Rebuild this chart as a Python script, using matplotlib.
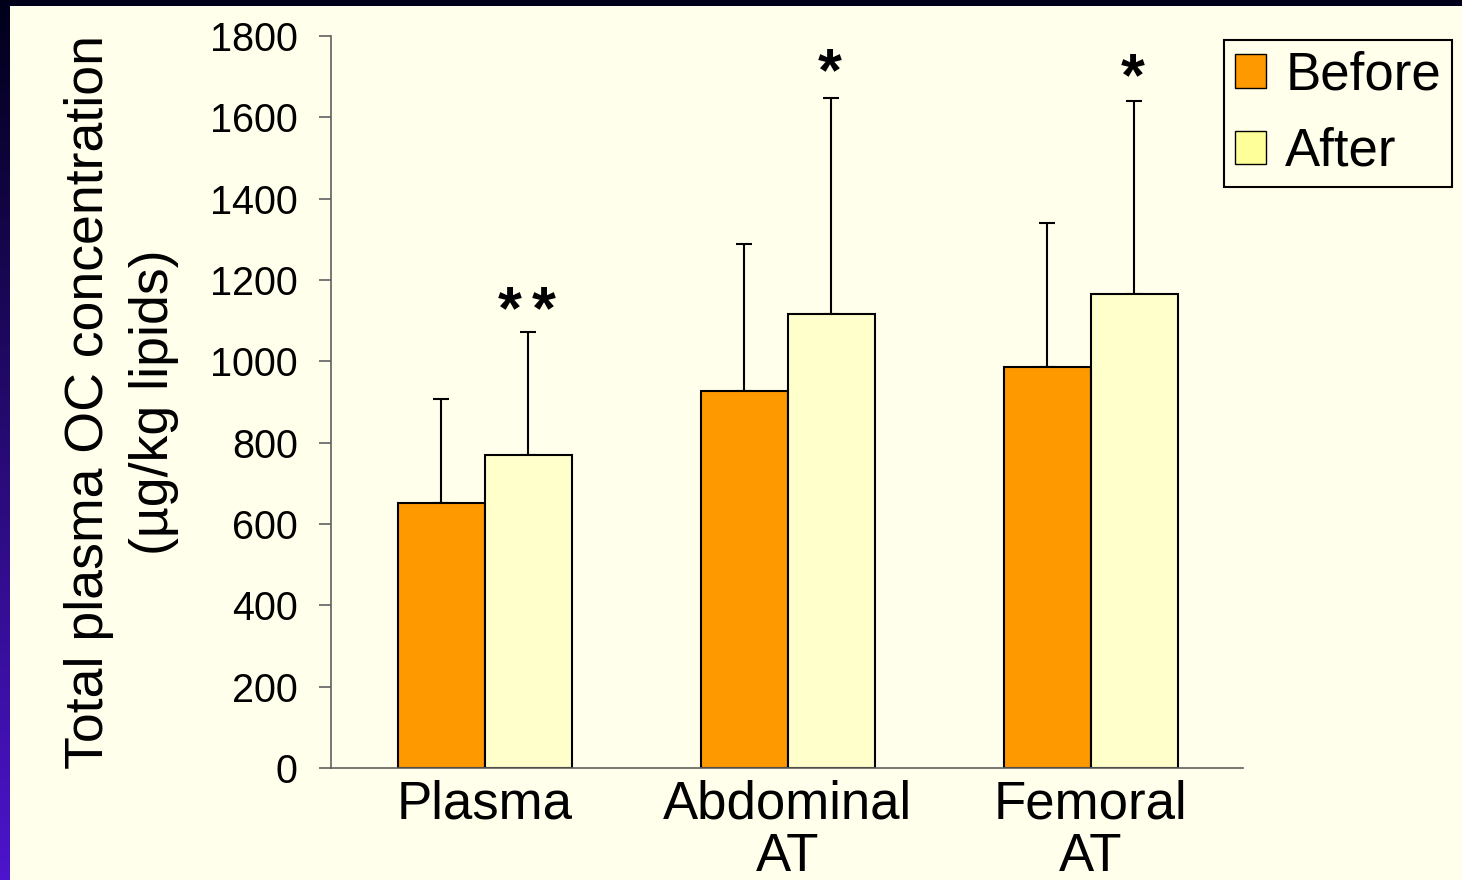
import matplotlib.pyplot as plt
import numpy as np
from matplotlib.patches import Patch

plt.rcParams['font.family'] = ['Liberation Sans', 'DejaVu Sans']

groups = ['Plasma', 'Abdominal\nAT', 'Femoral\nAT']
before = [652, 927, 986]
after = [770, 1116, 1165]
before_sd = [255, 361, 354]
after_sd = [302, 531, 475]
# significance marks: (group index, number of stars, y of mark)
stars = [(0, 2, 1119), (1, 1, 1706), (2, 1, 1692)]
yticks = [0, 200, 400, 600, 800, 1000, 1200, 1400, 1600, 1800]

cream = '#FFFFEB'
orange = '#FF9900'
pale = '#FFFFCC'

fig = plt.figure(figsize=(14.62, 8.8), dpi=100)

# dark gradient frame behind everything
bg = fig.add_axes([0, 0, 1, 1])
grad = np.linspace(0, 1, 256).reshape(-1, 1)
top_c = np.array([0.0, 0.0, 0.10])
bot_c = np.array([0.30, 0.08, 0.80])
img = top_c + (bot_c - top_c) * grad[:, :, None]
bg.imshow(img, aspect='auto', extent=[0, 1, 0, 1], origin='upper')
bg.axis('off')

panel = fig.add_axes([10 / 1462, 0, 1 - 10 / 1462, 1 - 6 / 880])
panel.set_facecolor(cream)
panel.set_xticks([])
panel.set_yticks([])
for s in panel.spines.values():
    s.set_visible(False)

ax = fig.add_axes([331 / 1462, 1 - 768 / 880, (1243 - 331) / 1462, (768 - 36) / 880])
ax.set_facecolor('none')

x = np.arange(len(groups))
w = 0.287
ax.bar(x - w / 2, before, w, color=orange, edgecolor='black', linewidth=1.5, zorder=2)
ax.bar(x + w / 2, after, w, color=pale, edgecolor='black', linewidth=1.5, zorder=2)
ax.errorbar(x - w / 2, before, yerr=[np.zeros(3), before_sd], fmt='none',
            ecolor='black', elinewidth=1.5, capsize=6, capthick=1.5, zorder=1)
ax.errorbar(x + w / 2, after, yerr=[np.zeros(3), after_sd], fmt='none',
            ecolor='black', elinewidth=1.5, capsize=6, capthick=1.5, zorder=1)

for gi, n, sy in stars:
    xc = x[gi] + w / 2 - 0.005
    offs = [0.0] if n == 1 else [-0.058, 0.055]
    for o in offs:
        ax.text(xc + o, sy, '*', ha='center', va='center',
                fontsize=44, fontweight='bold')

ax.set_xlim(-0.508, 2.502)
ax.set_ylim(0, 1800)
ax.set_yticks(yticks)
ax.tick_params(axis='y', direction='out', length=9, width=1.2, color='#606060',
               labelsize=28.5, pad=15)
ax.set_xticks(x)
ax.set_xticklabels(groups, fontsize=38, linespacing=1.08)
ax.tick_params(axis='x', length=0, pad=8)
for sp in ['top', 'right']:
    ax.spines[sp].set_visible(False)
for sp in ['left', 'bottom']:
    ax.spines[sp].set_color('#606060')
    ax.spines[sp].set_linewidth(1.2)

ax.set_ylabel('Total plasma OC concentration\n(µg/kg lipids)', fontsize=38.6,
              linespacing=1.4, labelpad=22)

handles = [Patch(facecolor=orange, edgecolor='black', label='Before'),
           Patch(facecolor='#FFFF99', edgecolor='black', label='After')]
leg = fig.legend(handles=handles, loc='upper left',
                 bbox_to_anchor=(1224 / 1462, 1 - 40 / 880),
                 fontsize=38, frameon=True, fancybox=False, edgecolor='black',
                 facecolor=cream, framealpha=1, handlelength=0.6, handleheight=0.6,
                 handletextpad=0.36, borderpad=0.2, labelspacing=0.5,
                 borderaxespad=0)
leg.get_frame().set_linewidth(1.5)

fig.savefig('out.png', dpi=100, facecolor='black')
